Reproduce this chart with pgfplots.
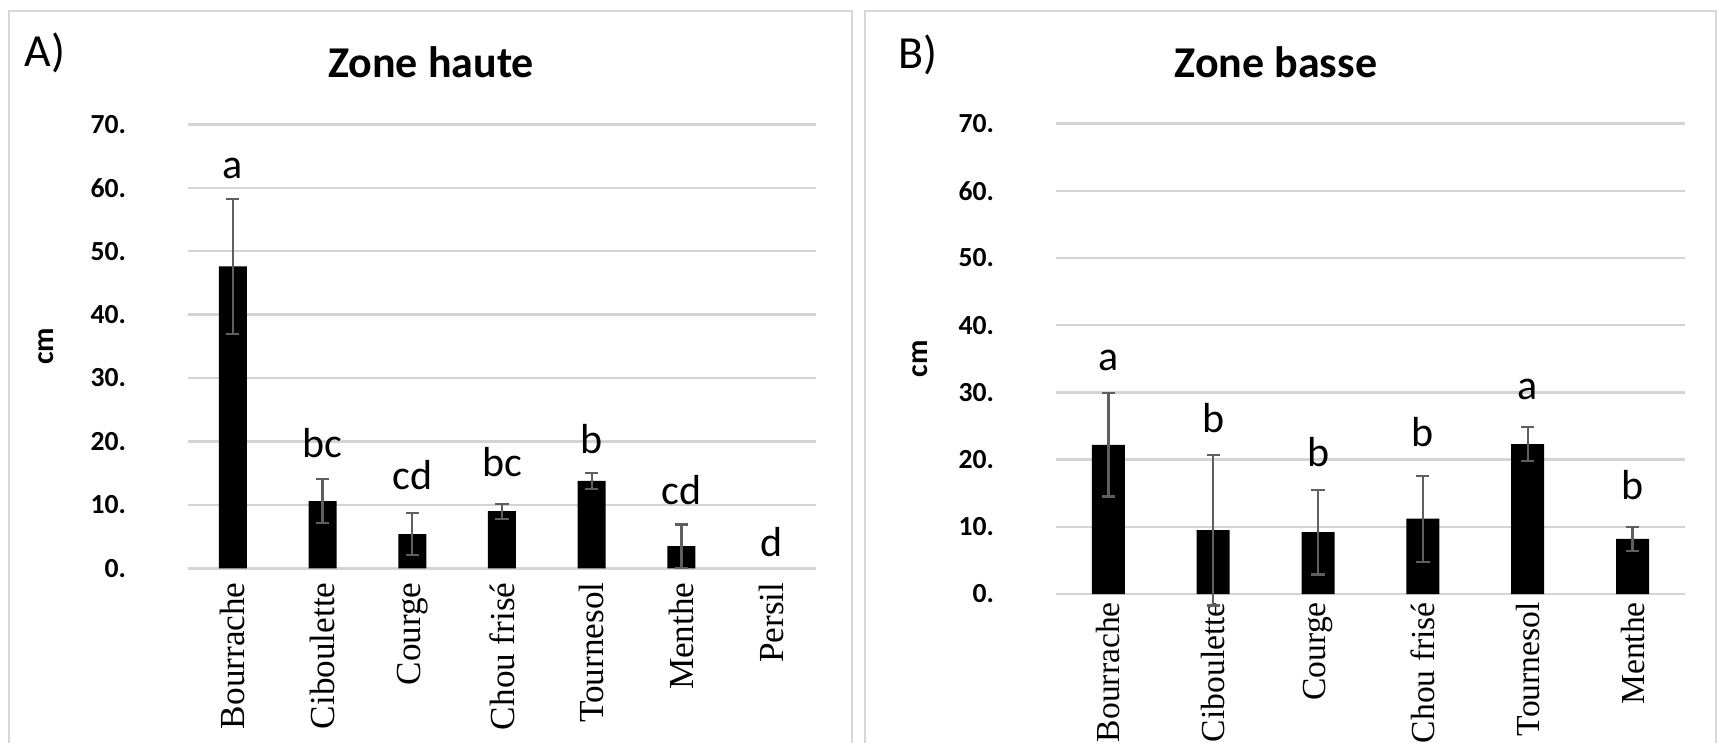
\documentclass[border=0pt]{standalone}
\usepackage{fontspec}
\setmainfont{Carlito}
\newfontfamily\serifx{Liberation Serif}
\usepackage{pgfplots}
\pgfplotsset{compat=1.18}
\usepackage{pgfplotstable}
\definecolor{gridc}{RGB}{212,212,212}
\definecolor{errc}{RGB}{95,95,95}
\definecolor{framec}{RGB}{215,215,215}

\pgfplotstableread{
x y err
0 47.6 10.6
1 10.6 3.5
2 5.4 3.35
3 9.0 1.2
4 13.8 1.25
5 3.5 3.4
}\dataA
\pgfplotstableread{
x y lab
0 61.5 a
1 17.5 bc
2 12.45 cd
3 14.45 bc
4 18.1 b
5 10.0 cd
6 1.8 d
}\letA
\pgfplotstableread{
x y err
0 22.2 7.7
1 9.5 11.2
2 9.2 6.3
3 11.2 6.4
4 22.3 2.5
5 8.2 1.8
}\dataB
\pgfplotstableread{
x y lab
0 33.3 a
1 24.0 b
2 18.9 b
3 21.9 b
4 29.0 a
5 14.1 b
}\letB

\pgfplotsset{panel/.style={
  scale only axis, anchor=south west,
  ymin=0, ymax=70, ytick={0,10,...,70},
  yticklabels={0.,10.,20.,30.,40.,50.,60.,70.},
  ymajorgrids, grid style={gridc, line width=0.6pt},
  axis line style={draw=none}, major tick length=0pt, tick style={draw=none},
  yticklabel style={font=\fontsize{6.9}{8}\selectfont\bfseries, xshift=-12pt},
  xticklabel style={font=\fontsize{8.8}{10}\selectfont\serifx, rotate=90, anchor=east},
  clip=false,
  ylabel={cm},
  ylabel style={font=\fontsize{7.5}{9}\selectfont\bfseries, anchor=center},
},
letters/.style={draw=none, mark=none, nodes near coords, point meta=explicit symbolic,
  every node near coord/.append style={anchor=base, inner sep=0pt, font=\fontsize{10.5}{12}\selectfont, black}},
bars/.style={ybar, fill=black, draw=none,
  error bars/.cd, y dir=both, y explicit,
  error bar style={line width=0.55pt, errc},
  error mark options={rotate=90, mark size=1.65pt, line width=0.55pt, errc}}
}

\begin{document}
\begin{tikzpicture}
\path[use as bounding box] (0,0) rectangle (429.25pt,185.5pt);
\draw[framec, line width=0.5pt] (2.25pt,-10pt) rectangle (213pt,182.75pt);
\draw[framec, line width=0.5pt] (216.25pt,-10pt) rectangle (428.9pt,182.75pt);

\node[anchor=base west, font=\fontsize{11.5}{13}\selectfont, inner sep=0pt] at (6pt,169pt) {A)};
\node[anchor=base, font=\fontsize{11}{13}\selectfont\bfseries, inner sep=0pt] at (107.75pt,166.25pt) {Zone haute};
\node[anchor=base west, font=\fontsize{11.5}{13}\selectfont, inner sep=0pt] at (224.5pt,168.5pt) {B)};
\node[anchor=base, font=\fontsize{11}{13}\selectfont\bfseries, inner sep=0pt] at (319pt,166.25pt) {Zone basse};

\begin{axis}[panel, at={(47pt,43.425pt)}, width=157pt, height=111pt,
  xmin=-0.5, xmax=6.5, xtick={0,...,6},
  xticklabels={Bourrache,Ciboulette,Courge,Chou frisé,Tournesol,Menthe,Persil},
  ylabel style={at={(axis description cs:-0.226,0.5)}}]
\addplot[bar width=7pt, bars] table[x=x, y=y, y error=err] {\dataA};
\addplot[letters] table[x=x, y=y, meta=lab] {\letA};
\end{axis}

\begin{axis}[panel, at={(264pt,37pt)}, width=157.25pt, height=117.625pt,
  xmin=-0.5, xmax=5.5, xtick={0,...,5},
  xticklabels={Bourrache,Ciboulette,Courge,Chou frisé,Tournesol,Menthe},
  xticklabel style={font=\fontsize{8.4}{10}\selectfont\serifx, xshift=1.5pt},
  ylabel style={at={(axis description cs:-0.216,0.5)}}]
\addplot[bar width=8.25pt, bars] table[x=x, y=y, y error=err] {\dataB};
\addplot[letters] table[x=x, y=y, meta=lab] {\letB};
\end{axis}
\end{tikzpicture}
\end{document}
